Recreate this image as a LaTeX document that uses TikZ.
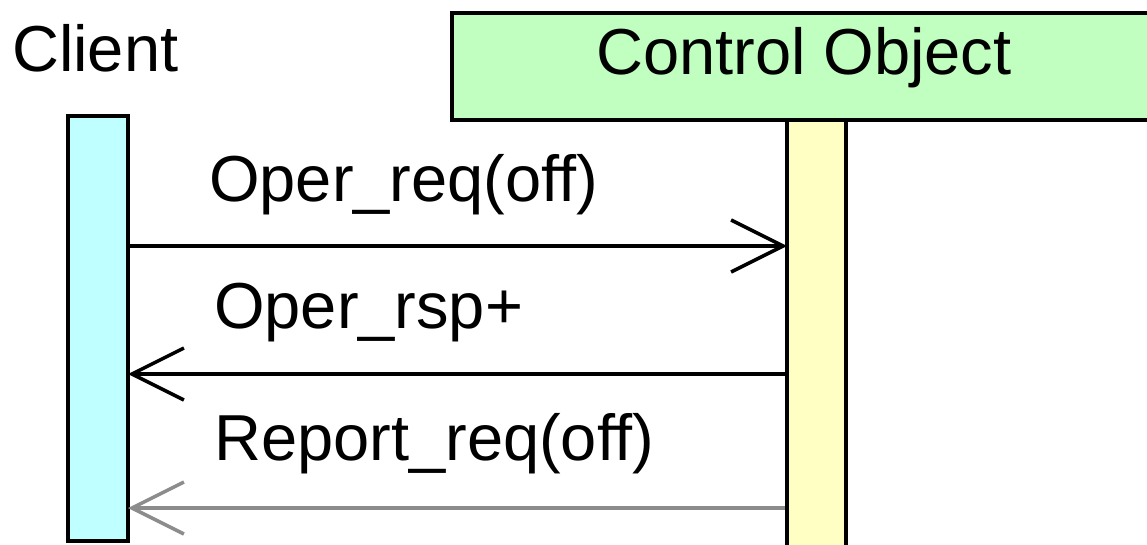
\documentclass[tikz,border=0pt]{standalone}
\usepackage{fontspec}
\setmainfont{Liberation Sans}
\usetikzlibrary{arrows.meta}
\definecolor{clientfill}{RGB}{192,255,255}
\definecolor{ctrlfill}{RGB}{192,255,192}
\definecolor{barfill}{RGB}{255,255,196}
\definecolor{msggray}{RGB}{140,140,140}
\tikzset{
  lbl/.style={anchor=base west, inner sep=0pt, font=\fontsize{65}{71}\selectfont},
  lifebar/.style={draw=black, line width=4pt},
  msg/.style={line width=4pt, -{Straight Barb[length=52pt,width=52pt,line width=3.5pt]}},
}
\begin{document}
\begin{tikzpicture}[x=1pt,y=-1pt]
\useasboundingbox (0,0) rectangle (1147,545);
\clip (0,0) rectangle (1147,545);
% control object box
\draw[lifebar, fill=ctrlfill] (452,13) rectangle (1170,120);
\node[lbl] (ctrlname) at (596,75) {Control Object};
% client label
\node[lbl] (clientname) at (12,72) {Client};
% lifebars
\draw[lifebar, fill=clientfill] (68,116) rectangle (128,541);
\draw[lifebar, fill=barfill] (787,120) rectangle (846,560);
\coordinate (c1) at (126,246);
\coordinate (o1) at (787,246);
\coordinate (c2) at (128,374);
\coordinate (o2) at (785,374);
\coordinate (c3) at (128,508);
\coordinate (o3) at (785,508);
% messages
\draw[msg] (c1) -- (o1);
\node[lbl] (m1) at (209,202) {Oper\_req(off)};
\draw[msg] (o2) -- (c2);
\node[lbl] (m2) at (214,328) {Oper\_rsp+};
\draw[msg, draw=msggray] (o3) -- (c3);
\node[lbl] (m3) at (214,460) {Report\_req(off)};
\end{tikzpicture}
\end{document}
